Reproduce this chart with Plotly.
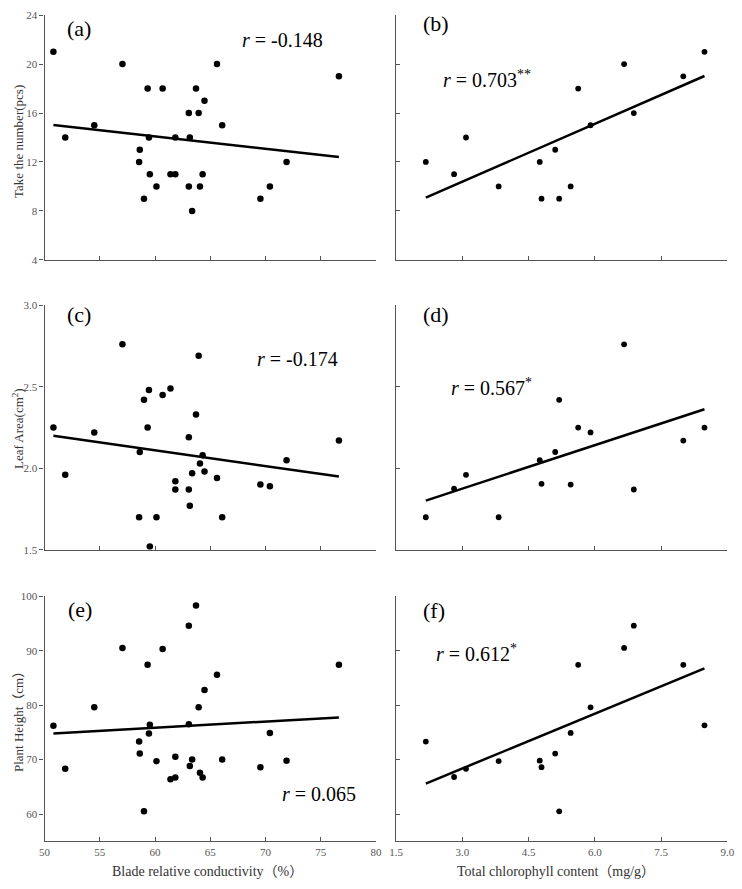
import numpy as np
import plotly.graph_objects as go

# ---------------- data ----------------
conductivity = [50.80, 51.87, 54.50, 57.05, 58.56, 58.62, 59.00, 59.33, 59.45, 59.53,
                60.13, 60.69, 61.40, 61.84, 61.84, 63.06, 63.06, 63.15, 63.36, 63.71,
                63.95, 64.07, 64.31, 64.48, 65.61, 66.08, 69.54, 70.40, 71.91, 76.65]
number_a = [21, 14, 15, 20, 12, 13, 9, 18, 14, 11,
            10, 18, 11, 11, 14, 16, 10, 14, 8, 18,
            16, 10, 11, 17, 20, 15, 9, 10, 12, 19]
leaf_c = [2.25, 1.96, 2.22, 2.76, 1.70, 2.10, 2.42, 2.25, 2.48, 1.52,
          1.70, 2.45, 2.49, 1.92, 1.87, 2.19, 1.87, 1.77, 1.97, 2.33,
          2.69, 2.03, 2.08, 1.98, 1.94, 1.70, 1.90, 1.89, 2.05, 2.17]
height_e = [76.2, 68.3, 79.6, 90.5, 73.3, 71.1, 60.5, 87.4, 74.8, 76.4,
            69.7, 90.3, 66.4, 70.5, 66.7, 94.6, 76.5, 68.8, 70.0, 98.3,
            79.6, 67.6, 66.7, 82.8, 85.6, 70.0, 68.6, 74.9, 69.8, 87.4]

chlorophyll = [2.17, 2.81, 3.08, 3.82, 4.75, 4.79, 5.10, 5.19, 5.45, 5.62,
               5.90, 6.66, 6.88, 8.00, 8.48]
number_b = [12, 11, 14, 10, 12, 9, 13, 9, 10, 18, 15, 20, 16, 19, 21]
leaf_d = [1.70, 1.875, 1.96, 1.70, 2.05, 1.905, 2.10, 2.42, 1.90, 2.25,
          2.22, 2.76, 1.87, 2.17, 2.25]
height_f = [73.3, 66.8, 68.3, 69.7, 69.8, 68.6, 71.1, 60.5, 74.9, 87.4,
            79.6, 90.5, 94.6, 87.4, 76.3]

panel_labels = ["(a)", "(b)", "(c)", "(d)", "(e)", "(f)"]
r_texts = ["<i>r</i> = -0.148", "<i>r</i> = 0.703<sup>**</sup>",
           "<i>r</i> = -0.174", "<i>r</i> = 0.567<sup>*</sup>",
           "<i>r</i> = 0.065", "<i>r</i> = 0.612<sup>*</sup>"]
y_titles = ["Take the number(pcs)", "Leaf Area(cm<sup>2</sup>)", "Plant Height（cm）"]
x_titles = ["Blade relative conductivity（%）", "Total chlorophyll content（mg/g）"]

x_left_ticks = [50, 55, 60, 65, 70, 75, 80]
x_right_ticks = [1.5, 3.0, 4.5, 6.0, 7.5, 9.0]
y_ticks = [[4, 8, 12, 16, 20, 24], [1.5, 2.0, 2.5, 3.0], [60, 70, 80, 90, 100]]
y_ranges = [[4, 24], [1.5, 3.0], [55, 100]]

# ---------------- layout geometry ----------------
W, H = 742, 889
FONT = "Liberation Serif, Times New Roman, Noto Sans CJK SC, serif"
x_dom = [[38.3 / W, 376.0 / W], [396.7 / W, 734.3 / W]]
y_pix = [(9.3, 257.3), (303.3, 551.3), (598.3, 846.7)]
y_dom = [[1 - b / H, 1 - t / H] for t, b in y_pix]

panels = [
    (conductivity, number_a, 0, 0), (chlorophyll, number_b, 0, 1),
    (conductivity, leaf_c, 1, 0), (chlorophyll, leaf_d, 1, 1),
    (conductivity, height_e, 2, 0), (chlorophyll, height_f, 2, 1),
]

fig = go.Figure()
layout = dict(width=W, height=H, margin=dict(l=0, r=0, t=0, b=0),
              paper_bgcolor="white", plot_bgcolor="white", showlegend=False,
              font=dict(family=FONT, color="#333"))

axis_color = "#555"
for i, (xs, ys, row, col) in enumerate(panels):
    n = i + 1
    xa = "x" if n == 1 else f"x{n}"
    ya = "y" if n == 1 else f"y{n}"
    xs_a = np.array(xs, dtype=float)
    ys_a = np.array(ys, dtype=float)
    msize = 6.5 if col == 0 else 5.8
    fig.add_trace(go.Scatter(x=xs_a, y=ys_a, mode="markers", xaxis=xa, yaxis=ya,
                             marker=dict(color="black", size=msize)))
    k, b = np.polyfit(xs_a, ys_a, 1)
    lx = np.array([xs_a.min(), xs_a.max()])
    fig.add_trace(go.Scatter(x=lx, y=k * lx + b, mode="lines", xaxis=xa, yaxis=ya,
                             line=dict(color="black", width=2.5)))
    bottom = row == 2
    layout["xaxis" if n == 1 else f"xaxis{n}"] = dict(
        domain=x_dom[col], anchor=ya,
        range=[50, 80] if col == 0 else [1.5, 9.0],
        tickvals=x_left_ticks if col == 0 else x_right_ticks,
        ticktext=[str(v) for v in x_left_ticks] if col == 0 else [f"{v:.1f}" for v in x_right_ticks],
        showticklabels=bottom, ticks="inside", ticklen=4, tickwidth=1.2, tickcolor=axis_color,
        showline=True, linecolor=axis_color, linewidth=1.4, showgrid=False, zeroline=False,
        tickfont=dict(family=FONT, size=11, color="#555"), fixedrange=True)
    yt = y_ticks[row]
    layout["yaxis" if n == 1 else f"yaxis{n}"] = dict(
        domain=y_dom[row], anchor=xa, range=y_ranges[row],
        tickvals=yt,
        ticktext=[f"{v:.1f}" if row == 1 else str(v) for v in yt],
        showticklabels=(col == 0), ticks="outside" if col == 0 else "inside",
        ticklen=4, tickwidth=1.2, tickcolor=axis_color,
        showline=True, linecolor=axis_color, linewidth=1.4, showgrid=False, zeroline=False,
        tickfont=dict(family=FONT, size=11, color="#555"), fixedrange=True)

annotations = []
def px_ann(text, x, y, size, color="black", angle=0, xanchor="center"):
    annotations.append(dict(text=text, x=x / W, y=1 - y / H, xref="paper", yref="paper",
                            showarrow=False, xanchor=xanchor, yanchor="middle",
                            textangle=angle, font=dict(family=FONT, size=size, color=color)))

label_pos = [(73, 23), (437, 18), (73, 313), (437, 313), (74, 612), (435, 613)]
for t, (x, y) in zip(panel_labels, label_pos):
    px_ann(t, x, y, 22)
r_pos = [(237, 34), (442, 74), (253, 358), (451, 386), (278, 799), (435, 656)]
for t, (x, y) in zip(r_texts, r_pos):
    px_ann(t, x, y, 20, xanchor="left")

ytitle_pos = [(11, 137), (11, 428), (11, 722)]
for t, (x, y) in zip(y_titles, ytitle_pos):
    px_ann(t, x, y, 13, color="#333", angle=-90)
px_ann(x_titles[0], 204, 877, 14, color="#333")
px_ann(x_titles[1], 560, 877, 14, color="#333")

layout["annotations"] = annotations
fig.update_layout(**layout)
fig.write_html("out.html")
